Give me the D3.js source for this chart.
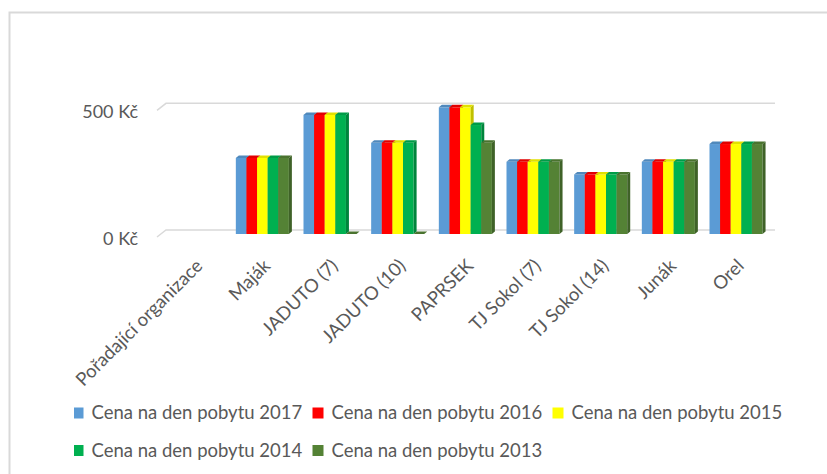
<!DOCTYPE html>
<html>
<head>
<meta charset="utf-8">
<script src="https://cdn.jsdelivr.net/npm/d3@7"></script>
<style>
  html, body { margin: 0; padding: 0; background: #fff; }
  svg { display: block; font-family: Lato, "Open Sans", sans-serif; }
</style>
</head>
<body>
<div id="chart"></div>
<script>
    var categories = ["Pořadající organizace", "Maják", "JADUTO (7)", "JADUTO (10)", "PAPRSEK", "TJ Sokol (7)", "TJ Sokol (14)", "Junák", "Orel"];
    var seriesNames = ["Cena na den pobytu 2017", "Cena na den pobytu 2016", "Cena na den pobytu 2015", "Cena na den pobytu 2014", "Cena na den pobytu 2013"];
    var seriesColors = ["#5b9bd5", "#ff0000", "#ffff00", "#00b050", "#548235"];

    var price2017 = [null, 300, 470, 360, 500, 285, 235, 285, 355];
    var price2016 = [null, 300, 470, 360, 500, 285, 235, 285, 355];
    var price2015 = [null, 300, 470, 360, 500, 285, 235, 285, 355];
    var price2014 = [null, 300, 470, 360, 430, 285, 235, 285, 355];
    var price2013 = [null, 300, 0, 0, 360, 285, 235, 285, 355];
    var yTicks = [0, 500];

    var seriesValues = [price2017, price2016, price2015, price2014, price2013];

    var width = 827,
        height = 474,
        textColor = '#595959',
        gridColor = '#d9d9d9';

    // back wall of the 3D plot, floor front is shifted by depth
    var wall = { left: 166, right: 775, top: 103.3, bottom: 230 },
        depth = { dx: -9, dy: 7 },
        barPos = 4 / 7,
        barDepth = { dx: 3, dy: -2.5 };

    var svg = d3.select("#chart").append("svg")
        .attr("width", width)
        .attr("height", height);

    svg.append("rect")
        .attr("x", 9.5)
        .attr("y", 12.5)
        .attr("width", width + 10)
        .attr("height", height + 10)
        .attr("fill", "none")
        .attr("stroke", gridColor)
        .attr("stroke-width", 2);

    var x0 = d3.scaleBand()
        .domain(categories)
        .range([wall.left, wall.right])
        .paddingInner(0.216)
        .paddingOuter(0.108);

    var x1 = d3.scaleBand()
        .domain(seriesNames)
        .range([0, x0.bandwidth()]);

    var y = d3.scaleLinear()
        .domain([0, 500])
        .range([wall.bottom, wall.top]);

    // gridlines
    svg.append("g")
        .selectAll("path")
        .data(yTicks)
        .enter().append("path")
        .attr("d", function (t) {
            return "M" + (wall.left + depth.dx) + "," + (y(t) + depth.dy) +
                "L" + wall.left + "," + y(t) +
                "L" + wall.right + "," + y(t);
        })
        .attr("fill", "none")
        .attr("stroke", gridColor)
        .attr("stroke-width", 1.5);

    // y axis labels
    svg.append("g")
        .selectAll("text")
        .data(yTicks)
        .enter().append("text")
        .attr("x", 138)
        .attr("y", function (t) { return y(t) + depth.dy + 8; })
        .attr("text-anchor", "end")
        .style("font-size", "18px")
        .style("fill", textColor)
        .text(function (t) { return t + " Kč"; });

    // bars
    var bars = svg.append("g");
    categories.forEach(function (c, i) {
        seriesNames.forEach(function (name, s) {
            var v = seriesValues[s][i];
            if (v === null) return;

            var bx = x0(c) + x1(name) + depth.dx * barPos,
                w = x1.bandwidth(),
                yb = y(0) + depth.dy * barPos,
                yt = y(v) + depth.dy * barPos,
                col = d3.color(seriesColors[s]);

            var g = bars.append("g");

            g.append("rect")
                .attr("x", bx)
                .attr("y", yt)
                .attr("width", w)
                .attr("height", yb - yt)
                .attr("fill", col);

            g.append("path")
                .attr("d", "M" + bx + "," + yt +
                    "L" + (bx + barDepth.dx) + "," + (yt + barDepth.dy) +
                    "L" + (bx + w + barDepth.dx) + "," + (yt + barDepth.dy) +
                    "L" + (bx + w) + "," + yt + "Z")
                .attr("fill", col.darker(0.35));

            g.append("path")
                .attr("d", "M" + (bx + w) + "," + yt +
                    "L" + (bx + w + barDepth.dx) + "," + (yt + barDepth.dy) +
                    "L" + (bx + w + barDepth.dx) + "," + (yb + barDepth.dy) +
                    "L" + (bx + w) + "," + yb + "Z")
                .attr("fill", col.darker(0.8));
        });
    });

    // category labels
    svg.append("g")
        .selectAll("text")
        .data(categories)
        .enter().append("text")
        .attr("transform", function (c) {
            var cx = x0(c) + x0.bandwidth() / 2 + depth.dx * barPos;
            return "translate(" + (cx + 9) + ",267) rotate(-45)";
        })
        .attr("text-anchor", "end")
        .style("font-size", "18.5px")
        .style("fill", textColor)
        .text(function (c) { return c; });

    // legend
    svg.append("clipPath")
        .attr("id", "legend-clip")
        .append("rect")
        .attr("x", 74)
        .attr("y", 390)
        .attr("width", 740)
        .attr("height", 80);

    var legend = svg.append("g")
        .attr("clip-path", "url(#legend-clip)")
        .selectAll("g")
        .data(seriesNames)
        .enter().append("g")
        .attr("transform", function (d, i) {
            return "translate(" + (72.5 + (i % 3) * 240) + "," + (407.5 + Math.floor(i / 3) * 37.5) + ")";
        });

    legend.append("rect")
        .attr("width", 11)
        .attr("height", 11)
        .attr("fill", function (d, i) { return seriesColors[i]; });

    legend.append("text")
        .attr("x", 19)
        .attr("y", 11.5)
        .style("font-size", "18.5px")
        .style("fill", textColor)
        .text(function (d) { return d; });
</script>
</body>
</html>
